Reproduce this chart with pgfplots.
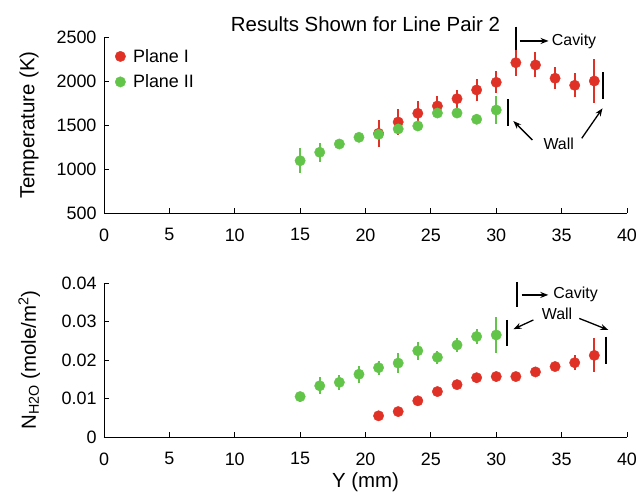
\documentclass[border=0pt]{standalone}
\usepackage{fontspec}
\setmainfont{Liberation Sans}
\usepackage{pgfplots}
\pgfplotsset{compat=1.18}
\usetikzlibrary{arrows.meta}
\definecolor{pred}{RGB}{224,49,38}
\definecolor{pgreen}{RGB}{99,196,74}
\tikzset{
  ann/.style={line width=2bp, black},
  arr/.style={line width=1.3bp, black, -{Stealth[length=8bp,width=6bp]}},
}
\pgfplotsset{
  base/.style={
    scale only axis, width=523bp,
    xmin=0, xmax=40, xtick={0,5,...,40},
    axis x line*=bottom, axis y line*=left,
    tick align=inside, major tick length=5bp,
    axis line style={line width=0.9bp},
    tick style={line width=0.9bp, black},
    tick label style={font=\fontsize{18}{21}\selectfont},
    xticklabel style={yshift=-12bp},
    yticklabel style={xshift=-4bp},
    /pgf/number format/assume math mode=true,
    /pgf/number format/1000 sep={},
    label style={font=\fontsize{20.5}{24}\selectfont},
    clip=false,
    ylabel style={at={(axis description cs:-0.143,0.5)}, anchor=center},
  },
  ser/.style={only marks, mark=*, mark size=5.2bp, color=#1, mark options={draw=#1, fill=#1},
    error bars/.cd, y dir=both, y explicit, error mark=none,
    error bar style={line width=2bp, #1}},
}
\begin{document}
\begin{tikzpicture}
\useasboundingbox (0,0) rectangle (638bp,493bp);
% ---------- top axis ----------
\begin{axis}[base,
  at={(104bp,280bp)}, anchor=south west, height=176bp,
  ymin=500, ymax=2500, ytick={500,1000,1500,2000,2500},
  ylabel={Temperature (K)},
  title={Results Shown for Line Pair 2},
  title style={at={(axis description cs:0.5,1)}, anchor=base, yshift=0bp, font=\fontsize{20.5}{24}\selectfont},
  legend style={at={(axis description cs:0,1)}, anchor=north west, xshift=8bp, yshift=-8bp,
    draw=none, fill=none, font=\fontsize{18}{21}\selectfont, row sep=7bp},
  legend cell align=left,
  legend image code/.code={\draw[#1] plot coordinates {(0bp,0bp)}; \path (10.5bp,0bp);},
]
\addplot[ser=pred] table[x=x, y=y, y error=e] {
x y e
21 1405 150
22.5 1534 146
24 1633 140
25.5 1716 117
27 1799 104
28.5 1898 127
30 1985 123
31.5 2208 155
33 2182 142
34.5 2031 123
36 1951 136
37.5 2000 250
};
\addplot[ser=pgreen] table[x=x, y=y, y error=e] {
x y e
15 1094 140
16.5 1190 105
18 1284 0
19.5 1360 0
21 1394 0
22.5 1455 0
24 1489 0
25.5 1636 0
27 1636 0
28.5 1565 0
30 1670 160
};
\legend{Plane I, Plane II}
\draw[ann] (axis cs:31.53,2617) -- (axis cs:31.53,2352);
\draw[arr] (axis cs:31.8,2455) -- (axis cs:34,2455);
\node[anchor=base west, inner sep=0pt, font=\fontsize{16}{19}\selectfont] at (axis cs:34.24,2409) {Cavity};
\node[anchor=base west, inner sep=0pt, font=\fontsize{16}{19}\selectfont] at (axis cs:33.6,1224) {Wall};
\draw[ann] (axis cs:30.87,1792) -- (axis cs:30.87,1489);
\draw[ann] (axis cs:38.19,2099) -- (axis cs:38.19,1795);
\draw[arr] (axis cs:32.76,1330) -- (axis cs:31.31,1545);
\draw[arr] (axis cs:36.54,1349) -- (axis cs:38.13,1690);
\end{axis}
% ---------- bottom axis ----------
\begin{axis}[base,
  at={(104bp,56bp)}, anchor=south west, height=154bp,
  ymin=0, ymax=0.04, ytick={0,0.01,0.02,0.03,0.04},
  yticklabels={0,0.01,0.02,0.03,0.04}, scaled y ticks=false,
  ylabel={N\textsubscript{H2O} (mole/m\textsuperscript{2})},
  xlabel={Y (mm)},
  xlabel style={at={(axis description cs:0.5,0)}, anchor=center, yshift=-45bp},
]
\addplot[ser=pred] table[x=x, y=y, y error=e] {
x y e
21 0.0055 0
22.5 0.0066 0
24 0.0094 0
25.5 0.0118 0
27 0.0136 0
28.5 0.0154 0
30 0.0157 0
31.5 0.0157 0
33 0.0169 0
34.5 0.0183 0
36 0.0193 0.0019
37.5 0.0212 0.0044
};
\addplot[ser=pgreen] table[x=x, y=y, y error=e] {
x y e
15 0.0105 0.0013
16.5 0.0133 0.0022
18 0.0142 0.0019
19.5 0.0163 0.0022
21 0.0180 0.0018
22.5 0.0192 0.0025
24 0.0224 0.0024
25.5 0.0207 0.0017
27 0.0239 0.0017
28.5 0.0261 0.0019
30 0.0265 0.0046
};
\draw[ann] (axis cs:31.6,0.0403) -- (axis cs:31.6,0.0337);
\draw[arr] (axis cs:31.95,0.0369) -- (axis cs:33.98,0.0369);
\node[anchor=base west, inner sep=0pt, font=\fontsize{16}{19}\selectfont] at (axis cs:34.36,0.0360) {Cavity};
\node[anchor=base west, inner sep=0pt, font=\fontsize{16}{19}\selectfont] at (axis cs:33.47,0.0304) {Wall};
\draw[ann] (axis cs:30.8,0.0304) -- (axis cs:30.8,0.0236);
\draw[ann] (axis cs:38.4,0.0261) -- (axis cs:38.4,0.0190);
\draw[arr] (axis cs:32.84,0.0304) -- (axis cs:31.31,0.0280);
\draw[arr] (axis cs:36.35,0.0308) -- (axis cs:38.57,0.0278);
\end{axis}
\end{tikzpicture}
\end{document}
